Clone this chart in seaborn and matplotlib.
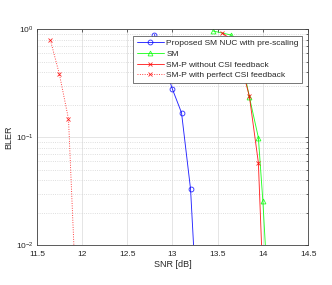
import matplotlib
matplotlib.use("Agg")
import matplotlib.pyplot as plt
import seaborn as sns
import pandas as pd
from matplotlib.ticker import LogLocator, NullFormatter

# 데이터
snr_nuc = [12.8, 13.0, 13.1, 13.2, 13.3]
bler_nuc = [0.89, 0.277, 0.168, 0.033, 0.0009]

snr_sm = [13.45, 13.65, 13.75, 13.85, 13.95, 14.0, 14.1]
bler_sm = [0.96, 0.88, 0.6, 0.236, 0.099, 0.0254, 0.0008]

snr_smp = [13.55, 13.65, 13.75, 13.85, 13.95, 14.05]
bler_smp = [0.92, 0.8, 0.5, 0.24, 0.058, 0.0004]

snr_smp_csi = [11.65, 11.75, 11.85, 11.95]
bler_smp_csi = [0.79, 0.38, 0.147, 0.0016]

labels = ["Proposed SM NUC with pre-scaling", "SM",
          "SM-P without CSI feedback", "SM-P with perfect CSI feedback"]

sns.set_style("white")
plt.rcParams["font.family"] = ["Liberation Sans", "DejaVu Sans"]

fig = plt.figure(figsize=(3.32, 2.85), dpi=100)
ax = fig.add_axes([0.111, 0.140, 0.817, 0.758])

series = [
    (snr_nuc, bler_nuc, labels[0], "#0000ff", "o", "-"),
    (snr_sm, bler_sm, labels[1], "#00ff00", "^", "-"),
    (snr_smp, bler_smp, labels[2], "#ff0000", "x", "-"),
    (snr_smp_csi, bler_smp_csi, labels[3], "#ff0000", "x", ":"),
]
for x, y, lab, col, mk, ls in series:
    df = pd.DataFrame({"SNR": x, "BLER": y})
    sns.lineplot(data=df, x="SNR", y="BLER", ax=ax, color=col, marker=mk,
                 linestyle=ls, linewidth=0.65, markersize=3.5,
                 markerfacecolor="none", markeredgecolor=col,
                 markeredgewidth=0.6, label=lab, sort=False, alpha=0.85)

ax.set_yscale("log")
ax.set_xlim(11.5, 14.5)
ax.set_ylim(1e-2, 1)
ax.set_xticks([11.5, 12, 12.5, 13, 13.5, 14, 14.5])
ax.set_xticklabels(["11.5", "12", "12.5", "13", "13.5", "14", "14.5"])
ax.yaxis.set_major_locator(LogLocator(base=10, numticks=5))
ax.yaxis.set_minor_locator(LogLocator(base=10, subs=range(2, 10), numticks=20))
ax.yaxis.set_minor_formatter(NullFormatter())

ax.grid(True, which="major", color="#e0e0e0", linewidth=0.6)
ax.grid(True, which="minor", axis="y", color="#d4d4d4", linestyle=":", linewidth=0.6)
ax.set_axisbelow(True)

ax.tick_params(which="both", direction="in", top=True, right=True,
               labelsize=6, colors="#262626", length=2.5, width=0.5, pad=2.5)
ax.tick_params(axis="x", pad=4)
ax.tick_params(which="minor", length=1.5)
for s in ax.spines.values():
    s.set_color("#404040")
    s.set_linewidth(0.6)

ax.set_xlabel("SNR [dB]", fontsize=6.5, color="#262626", labelpad=1.5)
ax.set_ylabel("BLER", fontsize=6.5, color="#262626", labelpad=2)

leg = ax.legend(loc="upper right", bbox_to_anchor=(0.978, 0.968), fontsize=6.0,
                frameon=True, fancybox=False, framealpha=1, edgecolor="#404040",
                borderpad=0.4, labelspacing=0.35, handlelength=3.3,
                handletextpad=0.25, borderaxespad=0)
leg.get_frame().set_linewidth(0.5)

fig.savefig("out.png", dpi=100)
